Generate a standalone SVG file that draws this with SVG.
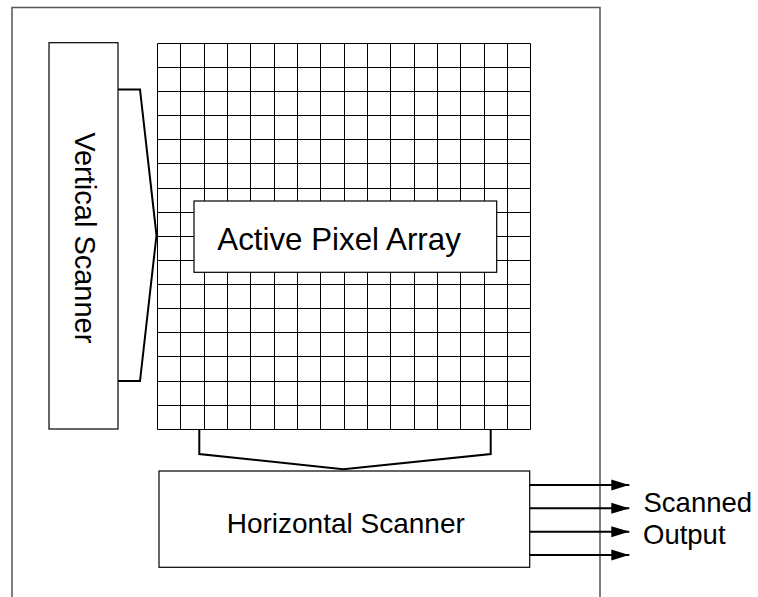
<svg xmlns="http://www.w3.org/2000/svg" width="758" height="597" viewBox="0 0 758 597">
  <style>
    .box { fill: #fff; stroke: #000; stroke-width: 1.2; }
    .grid { fill: none; stroke: #000; stroke-width: 1; }
    .frame { fill: none; stroke: #555; stroke-width: 1.5; }
    .wire { fill: none; stroke: #000; stroke-width: 2; }
    .out { stroke: #000; stroke-width: 2; }
    .label { font-family: "Liberation Sans", Arial, sans-serif; fill: #000; }
  </style>
  <defs>
    <marker id="arrow" markerUnits="userSpaceOnUse" markerWidth="18" markerHeight="12" refX="18" refY="6" orient="auto">
      <path d="M0,0.5 L18,6 L0,11.5 Z" fill="#000"/>
    </marker>
  </defs>
  <rect width="758" height="597" fill="#fff"/>

  <!-- chip outline (open at the bottom) -->
  <path class="frame" d="M12,597 V7.5 H600 V597"/>

  <!-- pixel grid: 16 x 16 cells -->
  <g id="pixel-grid">
    <path class="grid" d="M157.5,43.5 V429.5 M180.5,43.5 V429.5 M204.5,43.5 V429.5 M227.5,43.5 V429.5 M250.5,43.5 V429.5 M274.5,43.5 V429.5 M297.5,43.5 V429.5 M320.5,43.5 V429.5 M344.5,43.5 V429.5 M367.5,43.5 V429.5 M390.5,43.5 V429.5 M414.5,43.5 V429.5 M437.5,43.5 V429.5 M460.5,43.5 V429.5 M484.5,43.5 V429.5 M507.5,43.5 V429.5 M530.5,43.5 V429.5"/>
    <path class="grid" d="M157.5,43.5 H530.5 M157.5,67.5 H530.5 M157.5,91.5 H530.5 M157.5,115.5 H530.5 M157.5,139.5 H530.5 M157.5,163.5 H530.5 M157.5,188.5 H530.5 M157.5,212.5 H530.5 M157.5,236.5 H530.5 M157.5,260.5 H530.5 M157.5,284.5 H530.5 M157.5,308.5 H530.5 M157.5,332.5 H530.5 M157.5,356.5 H530.5 M157.5,381.5 H530.5 M157.5,405.5 H530.5 M157.5,429.5 H530.5"/>
  </g>

  <g id="active-pixel-array">
    <rect class="box" x="194" y="201" width="302.7" height="71.3"/>
    <text class="label" x="217.3" y="250" font-size="31.3">Active Pixel Array</text>
  </g>

  <g id="vertical-scanner">
    <rect class="box" x="49" y="42.7" width="69" height="386.3"/>
    <text class="label" font-size="29" text-anchor="middle" transform="translate(74.5,237.8) rotate(90)">Vertical Scanner</text>
  </g>

  <g id="horizontal-scanner">
    <rect class="box" x="159" y="471" width="370.7" height="96.3"/>
    <text class="label" x="226.7" y="533.3" font-size="28">Horizontal Scanner</text>
  </g>

  <g id="output-label">
    <text class="label" x="643.5" y="511.5" font-size="27.5">Scanned</text>
    <text class="label" x="643" y="544" font-size="27.5">Output</text>
  </g>

  <g id="connectors">
    <!-- row select bus from vertical scanner -->
    <path class="wire" d="M118,89.5 H140 L156.5,235.3 L140,381 H118"/>
    <!-- column bus into horizontal scanner -->
    <path class="wire" d="M199.3,429.3 V454 L343.3,469.3 L490.7,454 V429.3"/>
    <!-- output lines -->
    <line class="out" x1="529.7" y1="485" x2="629.3" y2="485" marker-end="url(#arrow)"/>
    <line class="out" x1="529.7" y1="508.3" x2="629.3" y2="508.3" marker-end="url(#arrow)"/>
    <line class="out" x1="529.7" y1="531.7" x2="629.3" y2="531.7" marker-end="url(#arrow)"/>
    <line class="out" x1="529.7" y1="555" x2="629.3" y2="555" marker-end="url(#arrow)"/>
  </g>
</svg>
